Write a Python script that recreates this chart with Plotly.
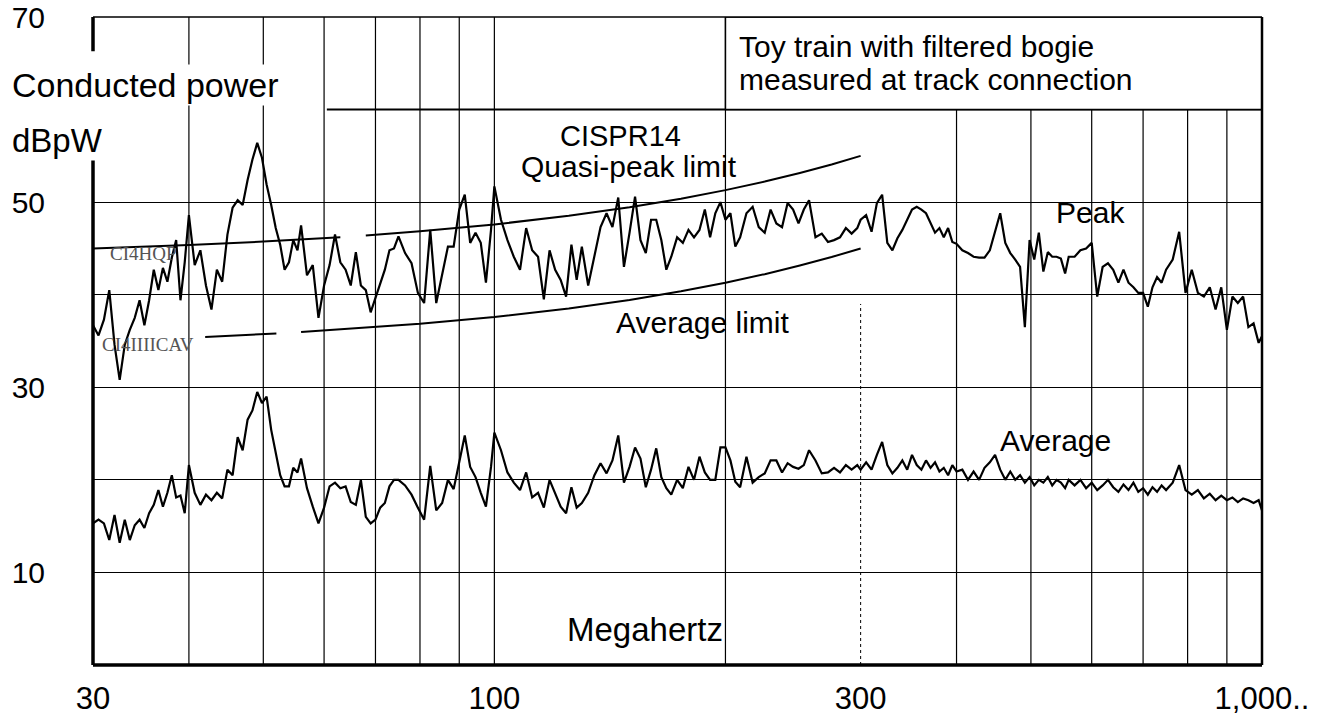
import math
import plotly.graph_objects as go

# ---------------- data ----------------
freq_mhz = [
    30, 30.5, 31, 31.5, 32, 32.5, 33, 33.5, 34, 34.5, 35, 35.5, 36, 36.5, 37, 37.5, 38, 38.5, 39, 39.5, 40,
    40.7, 41.4, 42.1, 42.8, 43.5, 44.2, 44.9, 45.6, 46.3, 47.0, 47.7, 48.4, 49.1, 49.8, 50.5, 51.2, 51.9,
    52.6, 53.3, 54.0, 54.7, 55.4,
    56, 57, 58, 59, 60, 61, 62, 63, 64, 65, 66, 67, 68, 69, 70, 71, 72, 73, 74, 75,
    76.5, 78, 79.5, 81, 82.5, 84, 85.5, 87, 88.5, 90, 91.5, 93, 94.5, 96, 97.5, 99, 100,
    102, 104, 106, 108, 110, 112, 114, 116, 118, 120, 122, 124, 126, 128, 130,
    132.5, 135, 137.5, 140, 142.5, 145, 147.5, 150, 152.5, 155, 157.5, 160, 162.5, 165, 167.5, 170,
    173, 176, 179, 182, 185, 188, 191, 194, 197, 200, 203, 206, 209,
    213, 217, 221, 225, 229, 233, 237, 241, 245, 249, 253, 257,
    262, 267, 272, 277, 282, 287, 292, 297,
    300, 305, 310, 315, 320, 325, 330, 335, 340, 345, 350, 355, 360, 365, 370, 375, 380, 385, 390, 395, 400,
    407, 414, 421, 428, 435, 442, 449, 456, 463, 470, 477, 484, 491, 498, 505, 512, 519, 526, 533, 540, 547, 554,
    560, 570, 580, 590, 600, 610, 620, 630, 640, 650, 660, 670, 680, 690, 700, 710, 720, 730, 740, 750,
    765, 780, 795, 810, 825, 840, 855, 870, 885, 900, 915, 930, 945, 960, 975, 990, 1000,
]

peak_dbpw = [
    36.7, 35.6, 37.3, 40.5, 34.6, 30.8, 34.6, 36.2, 37.5, 39.4, 36.7, 39.4, 42.7, 40.5, 42.9, 41.4, 44.0, 45.9, 39.4, 43.5, 48.6,
    43.2, 44.8, 41.0, 38.4, 42.7, 41.4, 46.5, 49.4, 50.2, 49.7, 52.4, 54.6, 56.4, 54.8, 51.9, 49.7, 47.2,
    45.4, 42.7, 43.5, 45.9, 44.8,
    47.5, 42.1, 43.2, 37.5, 41.0, 43.2, 46.5, 43.5, 42.7, 41.0, 44.6, 41.0, 40.5, 38.1, 39.6, 41.0, 42.7, 44.8, 45.0, 46.3,
    44.5, 43.4, 40.2, 39.1, 47.0, 39.1, 42.0, 45.2, 45.2, 49.2, 50.8, 45.6, 46.7, 45.6, 41.3, 47.0, 51.7,
    48.1, 45.9, 44.1, 42.7, 47.2, 44.8, 44.1, 39.5, 44.8, 42.7, 41.6, 39.8, 45.4, 41.6, 45.2,
    41.0, 44.1, 47.3, 48.8, 47.3, 50.5, 43.0, 46.7, 50.6, 45.9, 44.5, 48.1, 48.1, 45.9, 42.7, 44.1,
    46.2, 45.6, 47.0, 46.2, 47.0, 49.2, 46.2, 48.8, 50.0, 48.1, 48.8, 45.2, 46.2,
    48.8, 49.5, 47.3, 46.7, 49.2, 47.7, 47.3, 49.9, 49.2, 47.7, 49.2, 50.2,
    46.2, 46.6, 45.7, 45.9, 46.2, 47.2, 46.6, 47.2,
    48.1, 48.6, 46.8, 49.9, 50.8, 45.6, 44.8, 46.1, 47.0, 48.1, 49.2, 49.5, 49.2, 48.8, 47.7, 46.7, 47.2, 46.2, 47.2, 45.7, 45.5,
    44.8, 44.5, 44.1, 44.0, 44.0, 44.8, 46.7, 48.8, 45.6, 44.5, 43.8, 43.0, 36.5, 45.9, 43.8, 46.7, 42.5, 44.6, 44.1, 44.1, 43.9, 42.3,
    44.1, 44.1, 44.8, 45.0, 45.6, 39.8, 43.0, 43.4, 42.7, 41.3, 42.7, 41.3, 40.8, 40.2, 40.2, 38.7, 40.8, 41.9, 41.3, 42.7,
    43.8, 46.8, 40.2, 42.7, 40.2, 39.8, 40.8, 38.4, 40.8, 36.2, 39.8, 39.1, 39.8, 36.5, 36.9, 34.8, 35.5,
]

average_dbpw = [
    15.3, 15.7, 15.3, 13.5, 16.2, 13.2, 15.7, 13.5, 15.1, 15.7, 14.8, 16.4, 17.3, 18.9, 17.1, 18.6, 20.5, 18.1, 18.3, 16.4, 21.6,
    18.6, 17.3, 18.4, 17.8, 18.6, 18.0, 21.1, 20.5, 24.6, 23.2, 26.5, 27.5, 29.5, 28.3, 29.0, 25.4, 23.0,
    20.5, 19.3, 19.3, 21.3, 20.8,
    22.3, 19.1, 17.1, 15.3, 17.0, 19.3, 19.7, 19.1, 19.3, 17.6, 17.3, 20.0, 16.0, 15.3, 15.7, 17.0, 17.5, 19.3, 20.0, 20.0,
    19.4, 18.4, 17.0, 15.7, 21.5, 16.7, 17.5, 20.0, 19.0, 22.1, 24.8, 21.4, 20.3, 18.6, 17.1, 21.4, 25.1,
    23.2, 20.8, 19.7, 18.9, 20.8, 18.1, 18.6, 17.0, 20.0, 18.6, 17.1, 16.4, 19.2, 17.0, 17.5,
    18.6, 20.5, 21.8, 20.7, 22.1, 24.8, 19.7, 21.4, 23.5, 22.3, 19.2, 21.1, 23.4, 20.3, 19.1, 18.4,
    20.0, 19.1, 21.4, 20.0, 22.5, 20.8, 20.0, 20.0, 23.5, 23.5, 22.1, 19.8, 19.2,
    22.5, 19.7, 20.3, 20.7, 22.1, 22.1, 20.8, 21.8, 21.4, 21.2, 21.6, 23.2,
    22.1, 20.7, 20.8, 21.3, 20.8, 21.6, 21.1, 21.6,
    21.1, 21.9, 21.1, 22.7, 24.1, 21.6, 20.7, 21.3, 22.1, 21.1, 22.7, 21.6, 21.1, 22.1, 21.3, 21.9, 20.9, 21.3, 20.5, 21.6, 20.9,
    21.1, 20.0, 20.9, 20.0, 21.3, 21.9, 22.7, 21.1, 20.0, 20.9, 20.0, 20.5, 19.7, 20.3, 19.4, 20.0, 19.7, 20.3, 19.4, 20.0, 19.7, 19.1,
    20.0, 19.4, 20.0, 19.1, 19.7, 18.9, 19.4, 20.0, 19.2, 18.7, 19.5, 18.9, 19.7, 18.7, 19.1, 18.4, 19.2, 18.7, 19.4, 18.9,
    19.7, 21.6, 18.9, 18.4, 18.9, 18.0, 18.5, 17.8, 18.3, 17.8, 18.1, 17.6, 18.0, 17.8, 17.5, 17.8, 16.7,
]

# CISPR 14 disturbance-power limits (dBpW), linear in frequency 30-300 MHz
qp_limit_freq = [30, 40, 50, 60, 63, None, 68, 80, 100, 125, 150, 175, 200, 225, 250, 275, 300]
qp_limit_dbpw = [45.0, 45.37, 45.74, 46.11, 46.22, None, 46.41, 46.85, 47.59, 48.52, 49.44, 50.37, 51.30, 52.22, 53.15, 54.07, 55.0]
av_limit_freq = [42, 45, 52, None, 56, 68, 80, 100, 125, 150, 175, 200, 225, 250, 275, 300]
av_limit_dbpw = [35.44, 35.56, 35.81, None, 35.96, 36.41, 36.85, 37.59, 38.52, 39.44, 40.37, 41.30, 42.22, 43.15, 44.07, 45.0]

x_tick_vals = [30, 100, 300, 1000]
x_tick_text = ["30", "100", "300", "1,000.."]
x_grid_mhz = [40, 50, 60, 70, 80, 90, 100, 200, 400, 500, 600, 700, 800, 900]
y_tick_vals = [10, 20, 30, 40, 50, 70]
y_tick_text = ["10", "", "30", "", "50", "70"]

assert len(freq_mhz) == len(peak_dbpw) == len(average_dbpw)

FONT = "Liberation Sans, Arial, sans-serif"
BLACK = "#000000"

fig = go.Figure()
fig.add_trace(go.Scatter(x=qp_limit_freq, y=qp_limit_dbpw, mode="lines",
                         line=dict(color=BLACK, width=2), connectgaps=False, name="QP limit"))
fig.add_trace(go.Scatter(x=av_limit_freq, y=av_limit_dbpw, mode="lines",
                         line=dict(color=BLACK, width=2), connectgaps=False, name="Average limit"))
fig.add_trace(go.Scatter(x=freq_mhz, y=peak_dbpw, mode="lines",
                         line=dict(color=BLACK, width=2.2), name="Peak"))
fig.add_trace(go.Scatter(x=freq_mhz, y=average_dbpw, mode="lines",
                         line=dict(color=BLACK, width=2.2), name="Average"))

shapes = []
# vertical grid lines (drawn beneath the traces)
for g in x_grid_mhz:
    shapes.append(dict(type="line", xref="x", yref="paper", x0=g, x1=g, y0=0, y1=1,
                       line=dict(color=BLACK, width=1.2), layer="below"))
# the 300 MHz line is only a faint dotted stub in the lower part
shapes.append(dict(type="line", xref="x", yref="y", x0=300, x1=300, y0=0, y1=39,
                   line=dict(color=BLACK, width=1, dash="dot"), layer="below"))
# 60 dB line (only right of the axis caption)
shapes.append(dict(type="line", xref="x", yref="y", x0=60.5, x1=1000, y0=60, y1=60,
                   line=dict(color=BLACK, width=2), layer="below"))
# title box in the top-right corner
shapes.append(dict(type="rect", xref="x", yref="y", x0=200, x1=1000, y0=60, y1=70,
                   fillcolor="white", line=dict(color=BLACK, width=1.5), layer="above"))
# frame
shapes += [
    dict(type="line", xref="paper", yref="paper", x0=0, x1=1, y0=0, y1=0, line=dict(color=BLACK, width=3.5)),
    dict(type="line", xref="paper", yref="paper", x0=0, x1=1, y0=1, y1=1, line=dict(color=BLACK, width=1.5)),
    dict(type="line", xref="paper", yref="paper", x0=0, x1=0, y0=0, y1=1, line=dict(color=BLACK, width=3.5)),
    dict(type="line", xref="paper", yref="paper", x0=1, x1=1, y0=0, y1=1, line=dict(color=BLACK, width=2.5)),
    # gap in the left frame behind the axis caption
    dict(type="line", xref="paper", yref="y", x0=0, x1=0, y0=54.6, y1=66.3, line=dict(color="white", width=5)),
]


def lx(f):
    return math.log10(f)


annotations = [
    dict(text="Conducted power", xref="paper", yref="y", x=-0.071, y=62.7, xanchor="left", yanchor="middle",
         showarrow=False, font=dict(family=FONT, size=34, color=BLACK), bgcolor="white"),
    dict(text="dBpW", xref="paper", yref="y", x=-0.071, y=56.7, xanchor="left", yanchor="middle",
         showarrow=False, font=dict(family=FONT, size=33, color=BLACK), bgcolor="white"),
    dict(text="Toy train with filtered bogie", x=lx(207), y=66.8, xanchor="left", yanchor="middle",
         showarrow=False, font=dict(family=FONT, size=30, color=BLACK)),
    dict(text="measured at track connection", x=lx(207), y=63.2, xanchor="left", yanchor="middle",
         showarrow=False, font=dict(family=FONT, size=30, color=BLACK)),
    dict(text="CISPR14", x=lx(145.8), y=57.1, xanchor="center", yanchor="middle",
         showarrow=False, font=dict(family=FONT, size=29, color=BLACK)),
    dict(text="Quasi-peak limit", x=lx(149.8), y=53.9, xanchor="center", yanchor="middle",
         showarrow=False, font=dict(family=FONT, size=30, color=BLACK)),
    dict(text="Average limit", x=lx(187), y=37.05, xanchor="center", yanchor="middle",
         showarrow=False, font=dict(family=FONT, size=30, color=BLACK)),
    dict(text="Peak", x=lx(597), y=48.9, xanchor="center", yanchor="middle",
         showarrow=False, font=dict(family=FONT, size=30, color=BLACK)),
    dict(text="Average", x=lx(539), y=24.3, xanchor="center", yanchor="middle",
         showarrow=False, font=dict(family=FONT, size=30, color=BLACK)),
    dict(text="Megahertz", x=lx(157), y=3.8, xanchor="center", yanchor="middle",
         showarrow=False, font=dict(family=FONT, size=33, color=BLACK)),
    dict(text="CI4HQP", x=lx(31.4), y=44.5, xanchor="left", yanchor="middle",
         showarrow=False, font=dict(family="Liberation Serif, serif", size=19, color="#555555")),
    dict(text="CI4IIIICAV", x=lx(30.6), y=34.6, xanchor="left", yanchor="middle",
         showarrow=False, font=dict(family="Liberation Serif, serif", size=19, color="#555555")),
]

fig.update_layout(
    width=1321, height=718,
    margin=dict(l=93, r=59, t=17, b=53, autoexpand=False),
    paper_bgcolor="white", plot_bgcolor="white",
    showlegend=False,
    shapes=shapes,
    annotations=annotations,
    font=dict(family=FONT, color=BLACK),
    xaxis=dict(type="log", range=[math.log10(30), math.log10(1000)], automargin=False,
               tickmode="array", tickvals=x_tick_vals, ticktext=x_tick_text,
               showgrid=False, ticks="", showline=False, zeroline=False,
               tickfont=dict(family=FONT, size=31, color=BLACK), ticklabelstandoff=12),
    yaxis=dict(range=[0, 70], automargin=False, tickmode="array", tickvals=y_tick_vals, ticktext=y_tick_text,
               showgrid=True, gridcolor=BLACK, gridwidth=1.2, ticks="", showline=False, zeroline=False,
               tickfont=dict(family=FONT, size=30, color=BLACK), ticklabelstandoff=47),
)

fig.write_html("out.html")
